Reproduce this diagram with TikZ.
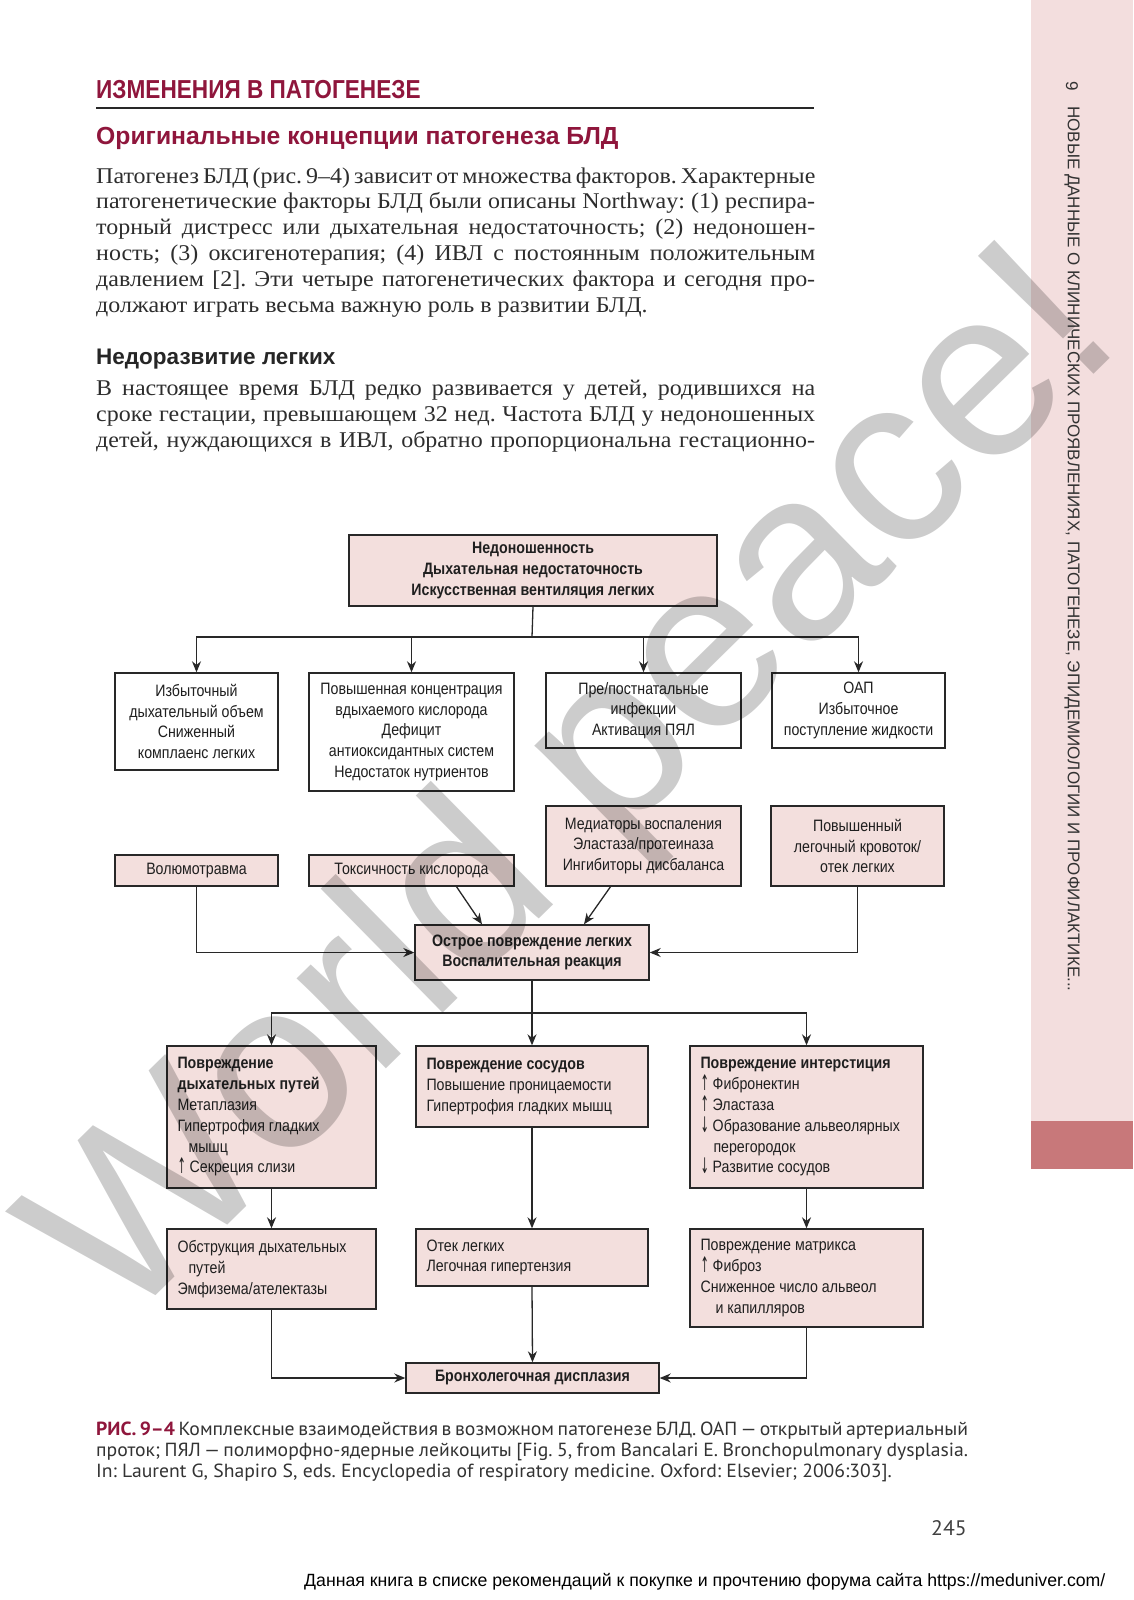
\documentclass[tikz,border=0pt]{standalone}
\usepackage{fontspec}
\setmainfont{Liberation Serif}[FakeStretch=1.065]
\newfontfamily\dfont[FakeStretch=0.86]{Liberation Sans}
\newfontfamily\hfont[FakeStretch=0.87]{Liberation Sans}
\newfontfamily\sfont{Liberation Sans}
\newfontfamily\capfont[FakeStretch=1.035]{PT Sans}
\newfontfamily\arrf[FakeStretch=0.6]{DejaVu Sans}
\newcommand\myup{\raisebox{-1pt}{\scalebox{1}[1.3]{\arrf ↑}}}
\newcommand\mydown{\raisebox{-1pt}{\scalebox{1}[1.3]{\arrf ↓}}}
\usetikzlibrary{arrows.meta,calc}
\definecolor{crim}{RGB}{143,22,60}
\definecolor{boxpink}{RGB}{243,223,221}
\definecolor{sidepink}{RGB}{243,222,222}
\definecolor{sidedark}{RGB}{200,120,122}
\definecolor{bodytxt}{RGB}{45,45,45}
\definecolor{linec}{RGB}{40,40,40}
\frenchspacing
\begin{document}
\begin{tikzpicture}[x=1pt,y=-1pt,
 box/.style={draw=linec, line width=1.4pt, fill=boxpink, inner sep=0pt, align=center,
   font=\dfont\fontsize{16.5}{20.8}\selectfont, text=black!88},
 wbox/.style={box, fill=white},
 intext/.style={anchor=west, inner sep=0pt, align=left, font=\dfont\fontsize{16.5}{20.8}\selectfont, text=black!88},
 arr/.style={draw=linec, line width=1.3pt, -{Stealth[length=11pt,width=9pt]}},
 ln/.style={draw=linec, line width=1.3pt},
 bodyl/.style={anchor=base west, inner sep=0pt, font=\fontsize{22.5}{26}\selectfont, text=bodytxt},
 capl/.style={anchor=base west, inner sep=0pt, font=\capfont\fontsize{19}{21}\selectfont, text=black!80},
]
\useasboundingbox (0,0) rectangle (1133,1600);
\fill[white] (0,0) rectangle (1133,1600);
% sidebar
\fill[sidepink] (1031,0) rectangle (1133,1121);
\fill[sidedark] (1031,1121) rectangle (1133,1169);
\node[rotate=-90, inner sep=0pt, font=\sfont\fontsize{17}{17}\selectfont, text=black!80] (sidenum) at (1072,86) {9};
\node[rotate=-90, anchor=west, inner sep=0pt, font=\sfont\fontsize{17}{17}\selectfont, text=black!80] (sidetxt) at (1072,106) {НОВЫЕ ДАННЫЕ О КЛИНИЧЕСКИХ ПРОЯВЛЕНИЯХ, ПАТОГЕНЕЗЕ, ЭПИДЕМИОЛОГИИ И ПРОФИЛАКТИКЕ...};
% headings
\node[anchor=base west, inner sep=0pt, font=\hfont\bfseries\fontsize{26}{26}\selectfont, text=crim] (h1) at (96,99) {ИЗМЕНЕНИЯ В ПАТОГЕНЕЗЕ};
\draw[line width=1.2pt, linec] (96,108) -- (814,108);
\node[anchor=base west, inner sep=0pt, font=\sfont\bfseries\fontsize{24.7}{24}\selectfont, text=crim] (h2) at (96,145) {Оригинальные концепции патогенеза БЛД};
% body
\node[bodyl] (p1) at (96,183) {\makebox[719pt][s]{Патогенез БЛД (рис. 9–4) зависит от множества факторов. Характерные}};
\node[bodyl] (p2) at (96,208.8) {\makebox[719pt][s]{патогенетические факторы БЛД были описаны Northway: (1) респира-}};
\node[bodyl] (p3) at (96,234.6) {\makebox[719pt][s]{торный дистресс или дыхательная недостаточность; (2) недоношен-}};
\node[bodyl] (p4) at (96,260.4) {\makebox[719pt][s]{ность; (3) оксигенотерапия; (4) ИВЛ с постоянным положительным}};
\node[bodyl] (p5) at (96,286.2) {\makebox[719pt][s]{давлением [2]. Эти четыре патогенетических фактора и сегодня про-}};
\node[bodyl] (p6) at (96,312) {должают играть весьма важную роль в развитии БЛД.};
\node[anchor=base west, inner sep=0pt, font=\sfont\bfseries\fontsize{22.5}{22}\selectfont, text=black!85] (h3) at (96,364) {Недоразвитие легких};
\node[bodyl] (q1) at (96,395) {\makebox[719pt][s]{В настоящее время БЛД редко развивается у детей, родившихся на}};
\node[bodyl] (q2) at (96,421) {\makebox[719pt][s]{сроке гестации, превышающем 32 нед. Частота БЛД у недоношенных}};
\node[bodyl] (q3) at (96,447) {\makebox[719pt][s]{детей, нуждающихся в ИВЛ, обратно пропорциональна гестационно-}};
% diagram boxes
\node[box, minimum width=368pt, minimum height=71pt] (A) at (533,570.5) {\bfseries Недоношенность\\\bfseries Дыхательная недостаточность\\\bfseries Искусственная вентиляция легких};
\node[wbox, minimum width=163pt, minimum height=97pt] (B1) at (196.5,721.5) {Избыточный\\дыхательный объем\\Сниженный\\комплаенс легких};
\node[wbox, minimum width=205pt, minimum height=118pt] (B2) at (411.5,732) {Повышенная концентрация\\вдыхаемого кислорода\\Дефицит\\антиоксидантных систем\\Недостаток нутриентов};
\node[wbox, minimum width=195pt, minimum height=75pt] (B3) at (643.5,710.5) {Пре/постнатальные\\инфекции\\Активация ПЯЛ};
\node[wbox, minimum width=173pt, minimum height=75pt] (B4) at (858.5,710.5) {ОАП\\Избыточное\\поступление жидкости};
\node[box, minimum width=163pt, minimum height=31pt] (C1) at (196.5,870.5) {Волюмотравма};
\node[box, minimum width=205pt, minimum height=31pt] (C2) at (411.5,870.5) {Токсичность кислорода};
\node[box, minimum width=195pt, minimum height=80pt] (C3) at (643.5,846) {Медиаторы воспаления\\Эластаза/протеиназа\\Ингибиторы дисбаланса};
\node[box, minimum width=173pt, minimum height=80pt] (C4) at (857.5,846) {Повышенный\\легочный кровоток/\\отек легких};
\node[box, minimum width=234pt, minimum height=55pt] (D) at (532,952.5) {\bfseries Острое повреждение легких\\\bfseries Воспалительная реакция};
\node[box, minimum width=209pt, minimum height=142pt] (E1) at (271.5,1117) {};
\node[box, minimum width=232pt, minimum height=81pt] (E2) at (532,1086.5) {};
\node[box, minimum width=233pt, minimum height=142pt] (E3) at (806.5,1117) {};
\node[box, minimum width=209pt, minimum height=80pt] (F1) at (271.5,1269) {};
\node[box, minimum width=232pt, minimum height=57pt] (F2) at (532,1257.5) {};
\node[box, minimum width=233pt, minimum height=98pt] (F3) at (806.5,1278) {};
\node[box, minimum width=253pt, minimum height=30pt] (G) at (532.5,1378) {\bfseries Бронхолегочная дисплазия};
% inner texts
\node[intext] (E1t) at ($(E1.west)+(11,0)$) {\textbf{Повреждение}\\\textbf{дыхательных путей}\\Метаплазия\\Гипертрофия гладких\\\hspace*{11pt}мышц\\\myup\ Секреция слизи};
\node[intext] (E2t) at ($(E2.west)+(11,0)$) {\textbf{Повреждение сосудов}\\Повышение проницаемости\\Гипертрофия гладких мышц};
\node[intext] (E3t) at ($(E3.west)+(11,0)$) {\textbf{Повреждение интерстиция}\\\myup\ Фибронектин\\\myup\ Эластаза\\\mydown\ Образование альвеолярных\\\hspace*{13pt}перегородок\\\mydown\ Развитие сосудов};
\node[intext] (F1t) at ($(F1.west)+(11,0)$) {Обструкция дыхательных\\\hspace*{11pt}путей\\Эмфизема/ателектазы};
\node[intext] (F2t) at ($(F2.west)+(11,0)$) {Отек легких\\Легочная гипертензия};
\node[intext] (F3t) at ($(F3.west)+(11,0)$) {Повреждение матрикса\\\myup\ Фиброз\\Сниженное число альвеол\\\hspace*{15pt}и капилляров};
% connectors
\coordinate (j1) at (532,637);
\coordinate (j2) at (532,1013);
\draw[ln] (A.south) -- (j1);
\draw[arr] (j1) -| (B1.north);
\draw[arr] (j1) -| (B2.north);
\draw[arr] (j1) -| (B3.north);
\draw[arr] (j1) -| (B4.north);
\draw[arr] (C1.south) |- (D.west);
\draw[arr] (C4.south) |- (D.east);
\draw[arr] ($(C2.south)+(45,0)$) -- ($(D.north)+(-50,0)$);
\draw[arr] ($(C3.south)+(-33,0)$) -- ($(D.north)+(52,0)$);
\draw[ln] (D.south) -- (j2);
\draw[arr] (j2) -| (E1.north);
\draw[arr] (j2) -- (E2.north);
\draw[arr] (j2) -| (E3.north);
\draw[arr] (E1.south) -- (F1.north);
\draw[arr] (E2.south) -- (F2.north);
\draw[arr] (E3.south) -- (F3.north);
\draw[arr] (F1.south) |- (G.west);
\draw[arr] (F2.south) -- (G.north);
\draw[arr] (F3.south) |- (G.east);
% caption
\node[capl] (c1) at (96,1435) {\makebox[872pt][s]{{\bfseries\color{crim}РИС. 9–4} Комплексные взаимодействия в возможном патогенезе БЛД. ОАП\,—\,открытый артериальный}};
\node[capl] (c2) at (96,1456) {\makebox[872pt][s]{проток; ПЯЛ\,—\,полиморфно-ядерные лейкоциты [Fig. 5, from Bancalari E. Bronchopulmonary dysplasia.}};
\node[capl] (c3) at (96,1477) {In: Laurent G, Shapiro S, eds. Encyclopedia of respiratory medicine. Oxford: Elsevier; 2006:303].};
\node[anchor=base, inner sep=0pt, font=\capfont\fontsize{21}{21}\selectfont, text=black!75] (pg) at (949,1535) {245};
\node[anchor=base west, inner sep=0pt, font=\sfont\fontsize{17.7}{17}\selectfont, text=black] (foot) at (304,1586) {Данная книга в списке рекомендаций к покупке и прочтению форума сайта https://meduniver.com/};
% watermark
\node[rotate=44.5, inner sep=0pt, font=\sfont\fontsize{240}{240}\selectfont, text=black, opacity=0.2] (wm) at (580,792) {World peace!};
\end{tikzpicture}
\end{document}
